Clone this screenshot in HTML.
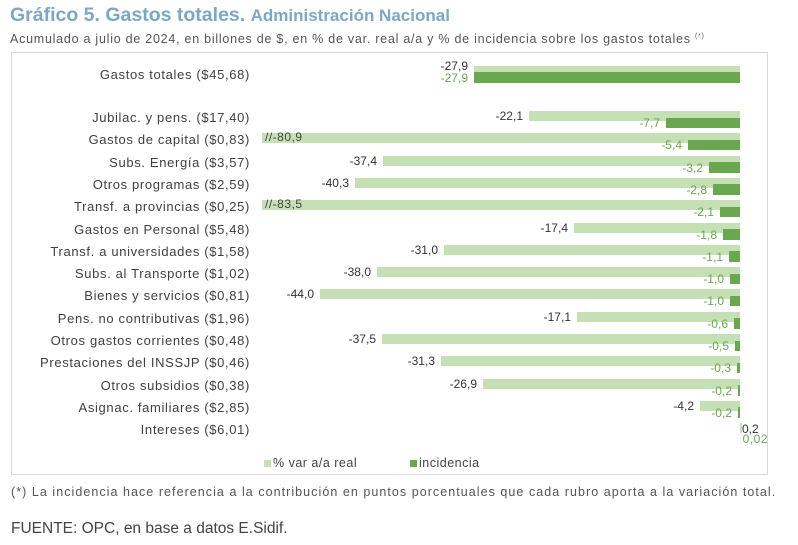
<!DOCTYPE html><html><head><meta charset="utf-8"><style>
body{margin:0;width:798px;height:545px;background:#fff;position:relative;overflow:hidden;font-family:"Liberation Sans",sans-serif}
.a{position:absolute;white-space:nowrap}
.r{position:absolute;left:0;width:798px;height:22px}
.lab{position:absolute;right:548px;top:-1px;font-size:13px;line-height:16px;color:#404040;letter-spacing:.65px}
.lb{position:absolute;right:58px;top:0;height:10px;background:#c5e0b4}
.db{position:absolute;right:58px;top:6.5px;height:10.5px;background:#6aa84f}
.lv{position:absolute;top:-2px;font-size:12px;line-height:14px;color:#333}
.dv{position:absolute;top:5px;font-size:12px;line-height:14px;color:#6aa84f}
.tr{position:absolute;left:265px;top:-3px;font-size:12px;line-height:14px;color:#444;letter-spacing:.5px}
</style></head><body>
<div class="a" style="left:10px;top:4px;font-size:19.5px;font-weight:bold;color:#7ba7c9">Gráfico 5. Gastos totales. <span style="font-size:17px">Administración Nacional</span></div>
<div class="a" style="left:10px;top:32px;font-size:12.5px;color:#555;letter-spacing:.75px">Acumulado a julio de 2024, en billones de $, en % de var. real a/a y % de incidencia sobre los gastos totales <sup style="font-size:7px">(*)</sup></div>
<div class="a" style="left:11px;top:52px;width:755px;height:421px;border:1px solid #d9d9d9"></div>

<div class="r" style="top:66px"><div class="lab" style="top:1px">Gastos totales ($45,68)</div><div class="lb" style="width:266px;height:6px;top:0"></div><div class="db" style="width:266px;top:6px;height:11px"></div><div class="lv" style="right:330px;top:-7px">-27,9</div><div class="dv" style="right:330px;top:5px">-27,9</div></div>

<div class="r" style="top:111px"><div class="lab">Jubilac. y pens. ($17,40)</div><div class="lb" style="width:211px"></div><div class="db" style="width:74px"></div><div class="lv" style="right:275px">-22,1</div><div class="dv" style="right:138px">-7,7</div></div>
<div class="r" style="top:133.3px"><div class="lab">Gastos de capital ($0,83)</div><div class="lb" style="width:478px"></div><div class="db" style="width:52px"></div><div class="tr">//-80,9</div><div class="dv" style="right:116px">-5,4</div></div>
<div class="r" style="top:155.6px"><div class="lab">Subs. Energía ($3,57)</div><div class="lb" style="width:357px"></div><div class="db" style="width:31px"></div><div class="lv" style="right:421px">-37,4</div><div class="dv" style="right:95px">-3,2</div></div>
<div class="r" style="top:177.9px"><div class="lab">Otros programas ($2,59)</div><div class="lb" style="width:385px"></div><div class="db" style="width:27px"></div><div class="lv" style="right:449px">-40,3</div><div class="dv" style="right:91px">-2,8</div></div>
<div class="r" style="top:200.2px"><div class="lab">Transf. a provincias ($0,25)</div><div class="lb" style="width:478px"></div><div class="db" style="width:20px"></div><div class="tr">//-83,5</div><div class="dv" style="right:84px">-2,1</div></div>
<div class="r" style="top:222.5px"><div class="lab">Gastos en Personal ($5,48)</div><div class="lb" style="width:166px"></div><div class="db" style="width:17px"></div><div class="lv" style="right:230px">-17,4</div><div class="dv" style="right:81px">-1,8</div></div>
<div class="r" style="top:244.8px"><div class="lab">Transf. a universidades ($1,58)</div><div class="lb" style="width:296px"></div><div class="db" style="width:11px"></div><div class="lv" style="right:360px">-31,0</div><div class="dv" style="right:75px">-1,1</div></div>
<div class="r" style="top:267.1px"><div class="lab">Subs. al Transporte ($1,02)</div><div class="lb" style="width:363px"></div><div class="db" style="width:10px"></div><div class="lv" style="right:427px">-38,0</div><div class="dv" style="right:74px">-1,0</div></div>
<div class="r" style="top:289.4px"><div class="lab">Bienes y servicios ($0,81)</div><div class="lb" style="width:420px"></div><div class="db" style="width:10px"></div><div class="lv" style="right:484px">-44,0</div><div class="dv" style="right:74px">-1,0</div></div>
<div class="r" style="top:311.7px"><div class="lab">Pens. no contributivas ($1,96)</div><div class="lb" style="width:163px"></div><div class="db" style="width:6px"></div><div class="lv" style="right:227px">-17,1</div><div class="dv" style="right:70px">-0,6</div></div>
<div class="r" style="top:334px"><div class="lab">Otros gastos corrientes ($0,48)</div><div class="lb" style="width:358px"></div><div class="db" style="width:5px"></div><div class="lv" style="right:422px">-37,5</div><div class="dv" style="right:69px">-0,5</div></div>
<div class="r" style="top:356.3px"><div class="lab">Prestaciones del INSSJP ($0,46)</div><div class="lb" style="width:299px"></div><div class="db" style="width:3px"></div><div class="lv" style="right:363px">-31,3</div><div class="dv" style="right:67px">-0,3</div></div>
<div class="r" style="top:378.6px"><div class="lab">Otros subsidios ($0,38)</div><div class="lb" style="width:257px"></div><div class="db" style="width:2px"></div><div class="lv" style="right:321px">-26,9</div><div class="dv" style="right:66px">-0,2</div></div>
<div class="r" style="top:400.9px"><div class="lab">Asignac. familiares ($2,85)</div><div class="lb" style="width:40px"></div><div class="db" style="width:2px"></div><div class="lv" style="right:104px">-4,2</div><div class="dv" style="right:66px">-0,2</div></div>
<div class="r" style="top:423.2px"><div class="lab">Intereses ($6,01)</div><div style="position:absolute;left:740px;top:0;width:2px;height:10px;background:#c5e0b4"></div><div class="lv" style="left:742px;top:-1px">0,2</div><div class="dv" style="right:30px;top:9px;letter-spacing:.5px">0,02</div></div>

<div class="a" style="left:264px;top:456px;font-size:12.5px;color:#444;letter-spacing:.5px"><span style="display:inline-block;width:7px;height:7px;background:#c5e0b4;margin-right:2px"></span>% var a/a real</div>
<div class="a" style="left:410px;top:456px;font-size:12.5px;color:#444;letter-spacing:.5px"><span style="display:inline-block;width:7px;height:7px;background:#6aa84f;margin-right:2px"></span>incidencia</div>
<div class="a" style="left:11px;top:485px;font-size:12.5px;color:#555;letter-spacing:1.05px">(*) La incidencia hace referencia a la contribución en puntos porcentuales que cada rubro aporta a la variación total.</div>
<div class="a" style="left:11px;top:520px;font-size:15.5px;color:#444">FUENTE: OPC, en base a datos E.Sidif.</div>
</body></html>
